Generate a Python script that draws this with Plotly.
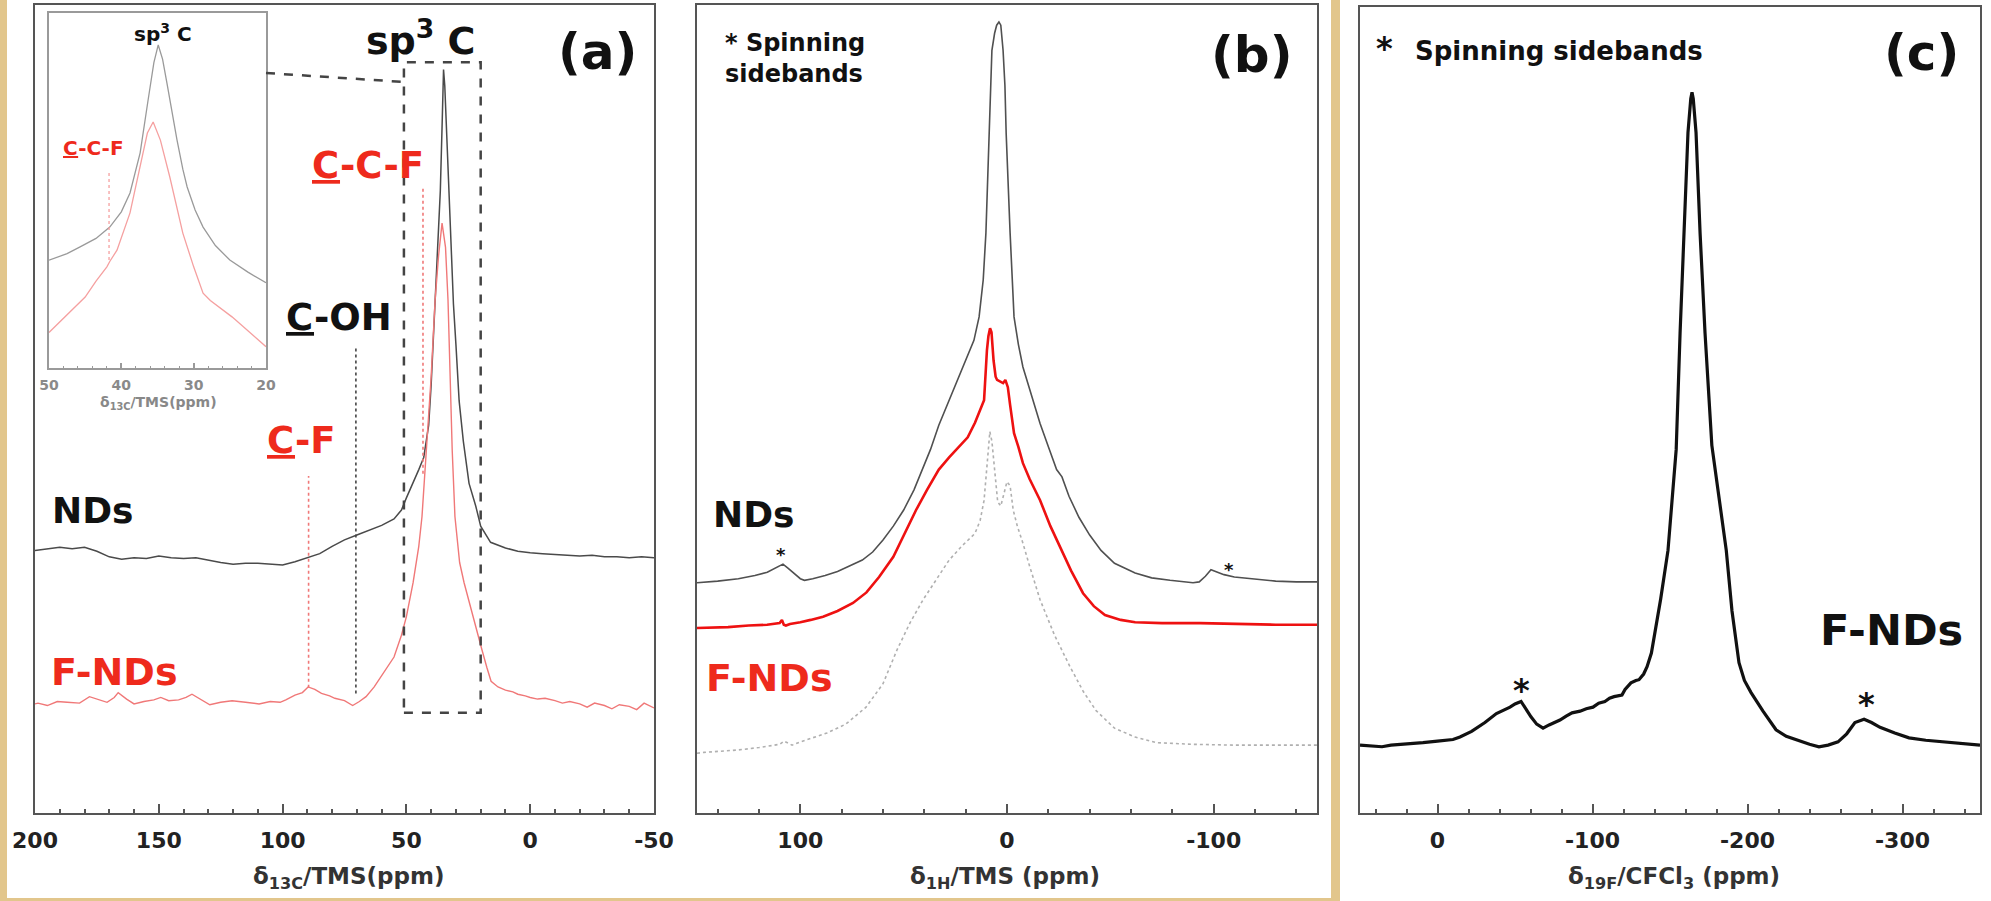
import plotly.graph_objects as go

# ---------------- data ----------------
# panel (a): 13C spectra, (ppm, intensity)
A_NDS = [(200,32.5),(195,32.7),(190,32.9),(185,32.7),(180,32.9),(175,32.4),(170,31.7),(165,31.4),(160,31.6),(155,31.5),
         (150,31.8),(145,31.6),(140,31.5),(135,31.6),(130,31.3),(125,31.0),(120,30.8),(115,30.9),(110,30.9),(105,30.8),
         (100,30.7),(95,31.1),(90,31.6),(85,32.1),(80,33.0),(75,33.8),(70,34.4),(65,35.0),(60,35.6),(55,36.4),(52,37.5),
         (50,39.0),(47,41.0),(45,42.5),(43,44.0),(41,48.0),(40,53.0),(39,60.0),(38,66.0),(37,72.0),(36.3,77.0),(35.5,86.0),
         (35,92.0),(34.5,90.0),(34,86.0),(33,78.0),(32,71.0),(31,63.0),(30,58.0),(28.7,51.0),(27,46.0),(24.7,40.8),
         (22,38.0),(20,35.5),(16,33.5),(10,32.8),(5,32.4),(0,32.2),(-5,32.1),(-10,32.0),(-15,31.9),(-20,31.8),(-25,31.9),
         (-30,31.7),(-35,31.7),(-40,31.6),(-45,31.7),(-50,31.6)]
A_FNDS = [(200,13.5),(198.8,13.6),(195,13.3),(191,13.8),(187,13.7),(182,13.6),(178,14.4),(174,14.0),(170.9,13.7),
          (168,14.3),(166.4,14.9),(163,14.1),(160,13.5),(156,13.8),(152,14.0),(149.2,14.3),(146,13.9),(142,14.0),
          (139,14.3),(136.6,14.7),(133,14.0),(129.4,13.4),(125,13.7),(120.4,13.9),(115,13.7),(109.5,13.5),(105,13.8),
          (101,13.7),(98.7,14.0),(95,14.6),(92,14.9),(89.7,15.6),(87,15.3),(84.3,14.8),(81,14.5),(78.9,14.2),(75,13.9),
          (71.7,13.3),(69,13.8),(66.3,14.4),(63,15.6),(59,17.5),(55,19.3),(52,22.0),(50,24.3),(47.3,28.5),(45,33.0),
          (43.7,36.7),(42,44.9),(40,54.0),(38.4,63.5),(37,69.0),(35.6,73.0),(34.2,70.0),(33.2,63.5),(32.3,54.0),
          (31.5,44.9),(30.4,36.7),(28.5,31.0),(26.7,28.5),(24,25.3),(23,24.3),(21,22.0),(19.5,20.2),(17.5,18.0),
          (15.8,16.3),(13,15.6),(10,15.2),(7,15.0),(5,14.7),(2,14.5),(0,14.3),(-3,14.1),(-6,14.2),(-10,13.9),(-13,13.6),
          (-16,13.8),(-20,13.5),(-23,13.1),(-26,13.6),(-30,13.3),(-33,12.9),(-36,13.4),(-40,13.2),(-43,12.8),(-46,13.6),
          (-50,13.0)]
# inset of panel (a)
INSET_NDS = [(50,30.4),(47.5,32.2),(45.7,34.1),(43.5,36.5),(41.6,39.7),(40,44.0),(38.8,49.3),(37.4,60.6),(36.3,75.5),
             (35.5,86.0),(34.9,91.0),(34.3,87.0),(33.7,80.3),(33,72.0),(32.3,64.2),(31.5,56.0),(30.9,51.0),(29.8,44.5),
             (28.7,39.7),(27,34.5),(25,30.4),(22.5,27.0),(20,24.0)]
INSET_FNDS = [(50,10.0),(47.5,15.0),(45,20.0),(43.5,24.5),(42,28.5),(41.6,30.0),(40.6,33.2),(38.8,43.7),(37.4,56.6),
              (36.4,66.2),(35.6,69.3),(34.6,64.2),(33.3,53.8),(32.4,45.5),(31.5,38.0),(30,28.5),(28.7,21.1),(27.7,19.0),
              (24.7,14.4),(22.5,10.5),(20,6.0)]
# panel (b): 1H spectra
B_NDS = [(150,28.5),(140,28.7),(130,29.0),(122,29.4),(116,29.8),(112,30.3),(110,30.6),(108.4,30.8),(106,30.3),(103,29.6),
         (100,29.0),(98,28.8),(94,29.0),(88,29.4),(82,29.9),(76,30.6),(70,31.3),(65,32.3),(60,33.8),(55,35.5),(50,37.5),
         (45,40.0),(41,42.5),(37,45.0),(33,48.0),(28,51.1),(24,53.5),(19.8,56.0),(16,58.5),(13.5,61.4),(11.5,66.0),
         (10.2,71.8),(8.7,84.1),(7.3,94.4),(6,96.5),(5,97.5),(3.9,97.9),(3,97.5),(1.9,94.4),(1,90.0),(0.4,84.1),
         (-0.5,78.0),(-1.5,71.8),(-3.4,61.4),(-5.5,58.0),(-7.7,55.2),(-10,53.2),(-12.6,51.1),(-16,48.2),(-20.5,45.0),
         (-24,42.5),(-26.6,41.6),(-30,39.2),(-34.8,36.6),(-40,34.4),(-45.5,32.5),(-52,30.9),(-62,29.7),(-70,29.1),
         (-78.9,28.8),(-85,28.6),(-90,28.5),(-93,28.6),(-96,29.3),(-98.7,30.1),(-101,29.9),(-103,29.7),(-105,29.5),
         (-110,29.2),(-114.7,29.1),(-120,28.9),(-130,28.7),(-140,28.6),(-150,28.6)]
B_FNDS = [(150,22.9),(135,23.0),(125,23.2),(116.1,23.3),(110,23.5),(108.9,23.9),(108,23.3),(107,23.2),(105,23.4),
          (100,23.6),(95,23.9),(89,24.3),(82,25.0),(74.5,26.0),(68,27.3),(61.9,29.2),(55,31.7),(49.4,34.6),(44,37.5),
          (38.7,40.0),(33,42.5),(28,44.0),(23.7,45.2),(19,46.5),(15.5,48.3),(13,49.8),(11.1,51.1),(9.7,57.3),(9,59.0),
          (8.2,60.0),(7.5,59.5),(6.5,56.0),(5.5,54.0),(4.8,53.6),(3.5,53.4),(1.9,53.2),(0.8,53.6),(-0.4,52.7),
          (-1.5,50.5),(-3.4,47.0),(-5.5,45.3),(-7.7,43.3),(-11,41.3),(-16,38.7),(-21,35.5),(-26.6,32.5),(-31,30.0),
          (-36.8,27.2),(-42,25.6),(-47.4,24.5),(-55,23.9),(-62,23.6),(-75,23.5),(-93.4,23.5),(-110,23.4),(-130,23.3),
          (-150,23.3)]
B_DIFF = [(150,7.4),(146.6,7.5),(130,7.8),(120,8.1),(110,8.5),(107.9,8.9),(104,8.4),(100,8.8),(87.1,9.9),(78,11.0),
          (68.2,13.1),(60,16.0),(53.2,20.2),(47,23.5),(40.6,26.4),(34,29.0),(28,31.3),(22,33.0),(15.5,34.6),(13,36.2),
          (11.1,38.7),(10,42.0),(9,45.5),(8.3,47.2),(7.3,46.0),(6,42.0),(4.5,38.5),(3,38.0),(1.5,39.5),(0,41.0),
          (-1.5,40.5),(-3,37.5),(-5,35.5),(-7.7,33.4),(-11,30.5),(-16,26.4),(-23,22.0),(-30.5,18.1),(-37,15.0),
          (-43,12.7),(-52,10.5),(-62,9.4),(-72.6,8.7),(-90,8.5),(-110,8.4),(-130,8.4),(-150,8.4)]
# panel (c): 19F spectrum
C_FNDS = [(50,8.4),(45,8.3),(40,8.2),(35.8,8.2),(30,8.4),(20,8.5),(9.4,8.7),(0,8.9),(-10,9.1),(-14.5,9.4),(-22,10.1),
          (-30.6,11.2),(-38,12.3),(-46.8,13.1),(-50,13.5),(-53.9,13.8),(-57,12.8),(-60.3,11.9),(-64,11.0),(-68.1,10.5),
          (-72,10.9),(-79,11.5),(-83,12.0),(-86.8,12.4),(-92,12.6),(-96,12.9),(-100.3,13.1),(-104,13.6),(-108,13.8),
          (-111,14.2),(-113.9,14.4),(-117,14.5),(-119,14.6),(-121,15.3),(-124.8,16.1),(-128,16.4),(-130,16.5),
          (-133,17.2),(-135.2,18.1),(-138,19.8),(-140.3,22.3),(-144,26.5),(-148.7,32.5),(-151,38.0),(-154,45.0),
          (-156.5,59.4),(-159,71.8),(-161.6,84.2),(-163.4,88.4),(-164.2,89.2),(-165,88.4),(-166.8,84.2),(-169.4,71.8),
          (-172.6,59.4),(-177,45.5),
          (-182,38.5),(-186.3,32.5),(-190,25.0),(-194.5,18.6),(-198,16.4),(-202.3,14.9),(-210,12.6),(-218.4,10.3),
          (-225,9.5),(-231.9,9.0),(-240,8.5),(-246.1,8.2),(-252,8.4),(-258.4,8.8),(-264,9.8),(-269.3,11.2),
          (-275.2,11.6),(-280,11.2),(-285.5,10.6),(-295,9.9),(-304.2,9.3),(-315,9.0),(-325.5,8.8),(-335,8.6),
          (-348.7,8.4),(-350,8.4)]

# marker lines (ppm, intensity from, intensity to)
A_MARKS = {"C-F": (89.5, 15.5, 41.7), "C-OH": (70.4, 14.8, 57.5), "C-C-F": (43.3, 42.0, 77.5)}
INSET_MARK = (41.7, 30.4, 55.8)
ZOOM_BOX = (51, 20, 12.4, 92.9)   # ppm from, ppm to, intensity from, intensity to

# tick labels
A_TICKS = [200, 150, 100, 50, 0, -50]
A_TICKTEXT = ["200", "150", "100", "50", "0", "-50"]
B_TICKS = [100, 0, -100]
B_TICKTEXT = ["100", "0", "-100"]
C_TICKS = [0, -100, -200, -300]
C_TICKTEXT = ["0", "-100", "-200", "-300"]
INSET_TICKS = [50, 40, 30, 20]
INSET_TICKTEXT = ["50", "40", "30", "20"]

# ---------------- figure ----------------
W, H = 1991, 901
def fx(p): return p / W
def fy(p): return 1 - p / H

TAN = "#E2C68C"
FRAME = "#555555"
RED_LABEL = "#EE2A1C"
TXT = "DejaVu Sans"

fig = go.Figure()

def add(pairs, xa, ya, color, width, dash=None):
    fig.add_trace(go.Scatter(x=[p[0] for p in pairs], y=[p[1] for p in pairs], mode="lines",
                             xaxis=xa, yaxis=ya, line=dict(color=color, width=width, dash=dash),
                             showlegend=False, hoverinfo="skip"))

add(A_NDS, "x", "y", "#4a4a4a", 1.5)
add(A_FNDS, "x", "y", "#F07878", 1.4)
add(INSET_NDS, "x4", "y4", "#9a9a9a", 1.3)
add(INSET_FNDS, "x4", "y4", "#F5A0A0", 1.3)
add(B_DIFF, "x2", "y2", "#B0B0B0", 1.6, "dot")
add(B_NDS, "x2", "y2", "#505050", 1.6)
add(B_FNDS, "x2", "y2", "#EE1111", 2.6)
add(C_FNDS, "x3", "y3", "#111111", 3.2)

def xaxis(domain, rng, tv, tt, minor_dtick, anchor, size=22, color=FRAME, lw=2, tl=9, ml=4, standoff=7,
          fcolor="#222"):
    return dict(domain=domain, range=rng, anchor=anchor, tickmode="array", tickvals=tv, ticktext=tt,
                ticks="inside", ticklen=tl, tickwidth=lw, tickcolor=color, automargin=False,
                minor=dict(tick0=0, dtick=minor_dtick, ticks="inside", ticklen=ml, tickwidth=max(1, lw - 0.5),
                           tickcolor=color, showgrid=False),
                showline=True, linecolor=color, linewidth=lw, mirror=True, showgrid=False, zeroline=False,
                tickfont=dict(family=TXT, size=size, color=fcolor, weight="bold"), ticklabelstandoff=standoff)

def yaxis(domain, rng, anchor, color=FRAME, lw=2):
    return dict(domain=domain, range=rng, anchor=anchor, showline=True, linecolor=color, linewidth=lw,
                mirror=True, ticks="", showticklabels=False, showgrid=False, zeroline=False, automargin=False)

yd = [fy(813), fy(5)]
fig.update_layout(
    template="none",
    width=W, height=H, margin=dict(l=0, r=0, t=0, b=0, pad=0), autosize=False, showlegend=False,
    paper_bgcolor=TAN, plot_bgcolor="white",
    xaxis=xaxis([fx(35), fx(654)], [200, -50], A_TICKS, A_TICKTEXT, 10, "y"),
    yaxis=yaxis(yd, [0, 100], "x"),
    xaxis2=xaxis([fx(697), fx(1317)], [150, -150], B_TICKS, B_TICKTEXT, 20, "y2"),
    yaxis2=yaxis(yd, [0, 100], "x2"),
    xaxis3=xaxis([fx(1360), fx(1980)], [50, -350], C_TICKS, C_TICKTEXT, 20, "y3"),
    yaxis3=yaxis([fy(813), fy(7)], [0, 99.75], "x3"),
    xaxis4=xaxis([fx(49), fx(266)], [50, 20], INSET_TICKS, INSET_TICKTEXT, 2, "y4", size=14,
                 color="#9a9a9a", lw=1.5, tl=5, ml=2, standoff=3, fcolor="#8a8a8a"),
    yaxis4=yaxis([fy(368), fy(13)], [0, 100], "x4", color="#9a9a9a", lw=1.5),
)

shapes = [
    dict(type="rect", xref="paper", yref="paper", x0=fx(7), x1=fx(1331), y0=fy(898), y1=1, layer="below",
         fillcolor="white", line=dict(width=0)),
    dict(type="rect", xref="paper", yref="paper", x0=fx(1340), x1=1, y0=0, y1=1, layer="below",
         fillcolor="white", line=dict(width=0)),
    dict(type="rect", xref="x", yref="y", x0=ZOOM_BOX[0], x1=ZOOM_BOX[1], y0=ZOOM_BOX[2], y1=ZOOM_BOX[3],
         line=dict(color="#444", width=2.5, dash="dash")),
    dict(type="line", xref="paper", yref="paper", x0=fx(266), y0=fy(73), x1=fx(404), y1=fy(82),
         line=dict(color="#444", width=2.5, dash="dash")),
]
mark_colors = {"C-F": "#F07878", "C-OH": "#444", "C-C-F": "#F07878"}
for k, (xv, y0, y1) in A_MARKS.items():
    shapes.append(dict(type="line", xref="x", yref="y", x0=xv, x1=xv, y0=y0, y1=y1,
                       line=dict(color=mark_colors[k], width=1.6, dash="dot")))
shapes.append(dict(type="line", xref="x4", yref="y4", x0=INSET_MARK[0], x1=INSET_MARK[0], y0=INSET_MARK[1],
                   y1=INSET_MARK[2], line=dict(color="#F5A0A0", width=1.3, dash="dot")))
fig.update_layout(shapes=shapes)

anns = []
def ann(text, px, py, size, color="#111", xanchor="center", align="center"):
    anns.append(dict(text=text, x=fx(px), y=fy(py), xref="paper", yref="paper", showarrow=False,
                     xanchor=xanchor, yanchor="middle", align=align,
                     font=dict(family=TXT, size=size, color=color, weight="bold")))

# panel (a)
ann("sp<sup>3</sup> C", 420, 38, 38)
ann("(a)", 597, 52, 50)
ann("<u>C</u>-C-F", 368, 165, 37, RED_LABEL)
ann("<u>C</u>-OH", 339, 317, 37)
ann("<u>C</u>-F", 301, 440, 37, RED_LABEL)
ann("NDs", 92, 510, 36)
ann("F-NDs", 114, 672, 38, RED_LABEL)
ann("sp<sup>3</sup> C", 163, 33, 20)
ann("<u>C</u>-C-F", 93, 148, 20, RED_LABEL)
ann("δ<sub>13C</sub>/TMS(ppm)", 158, 403, 14, "#888")
ann("δ<sub>13C</sub>/TMS(ppm)", 349, 878, 23, "#333")
# panel (b)
ann("* Spinning<br>sidebands", 723, 59, 24, xanchor="left", align="left")
ann("(b)", 1252, 55, 50)
ann("NDs", 753, 514, 36)
ann("F-NDs", 769, 678, 38, RED_LABEL)
ann("*", 781, 554, 18)
ann("*", 1229, 569, 18)
ann("δ<sub>1H</sub>/TMS (ppm)", 1005, 878, 23, "#333")
# panel (c)
ann("*", 1384, 48, 32)
ann("Spinning sidebands", 1413, 51, 26, xanchor="left")
ann("(c)", 1921, 53, 50)
ann("F-NDs", 1891, 630, 43)
ann("*", 1521, 690, 32)
ann("*", 1866, 704, 32)
ann("δ<sub>19F</sub>/CFCl<sub>3</sub> (ppm)", 1674, 878, 23, "#333")
fig.update_layout(annotations=anns)

fig.write_html("out.html", config={"responsive": False, "displayModeBar": False},
               post_script="document.body.style.margin='0';document.body.style.overflow='hidden';")
